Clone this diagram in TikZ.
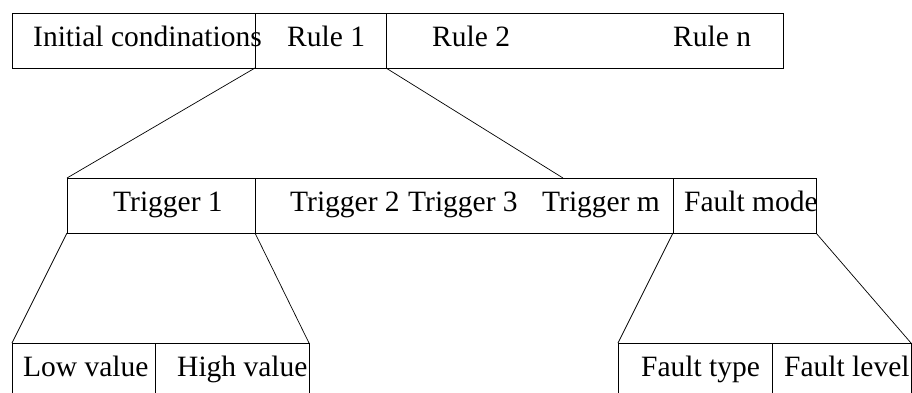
\documentclass[tikz,border=0pt]{standalone}
\usepackage{fontspec}
\setmainfont{Liberation Serif}
\begin{document}
\begin{tikzpicture}[x=1pt,y=-1pt,
  cell/.style={draw=black,line width=0.8pt,inner sep=0pt,outer sep=0pt,anchor=north west},
  lbl/.style={inner sep=0pt,anchor=base west,font=\fontsize{29.5}{34}\selectfont},
  link/.style={draw=black,line width=0.7pt}]
\useasboundingbox (0,0) rectangle (912,392);
\clip (0,0) rectangle (912,392);
% top row
\node[cell,minimum width=243pt,minimum height=55pt] (ic) at (12,13) {};
\node[cell,minimum width=131pt,minimum height=55pt] (r1) at (255,13) {};
\node[cell,minimum width=397pt,minimum height=55pt] (rr) at (386,13) {};
\node[lbl] (tic) at (33,46.7) {Initial condinations};
\node[lbl] (tr1) at (287,46.7) {Rule 1};
\node[lbl] (tr2) at (432,46.7) {Rule 2};
\node[lbl] (trn) at (673,46.7) {Rule n};
% middle row
\node[cell,minimum width=188pt,minimum height=55pt] (t1) at (67,178) {};
\node[cell,minimum width=418pt,minimum height=55pt] (tt) at (255,178) {};
\node[cell,minimum width=143pt,minimum height=55pt] (fm) at (673,178) {};
\node[lbl] (tt1) at (113,211.7) {Trigger 1};
\node[lbl] (tt2) at (290,211.7) {Trigger 2};
\node[lbl] (tt3) at (408,211.7) {Trigger 3};
\node[lbl] (ttm) at (542,211.7) {Trigger m};
\node[lbl] (tfm) at (684,211.7) {Fault mode};
\coordinate (tmtop) at (563,178);
% bottom row (cut by the picture edge)
\node[cell,minimum width=143pt,minimum height=70pt] (lv) at (12,343) {};
\node[cell,minimum width=154pt,minimum height=70pt] (hv) at (155,343) {};
\node[cell,minimum width=154pt,minimum height=70pt] (ft) at (618,343) {};
\node[cell,minimum width=139pt,minimum height=70pt] (fl) at (772,343) {};
\node[lbl] (tlv) at (23,376.7) {Low value};
\node[lbl] (thv) at (177,376.7) {High value};
\node[lbl] (tft) at (641,376.7) {Fault type};
\node[lbl] (tfl) at (784,376.7) {Fault level};
% connectors
\draw[link] (r1.south west) -- (t1.north west);
\draw[link] (r1.south east) -- (tmtop);
\draw[link] (t1.south west) -- (lv.north west);
\draw[link] (t1.south east) -- (hv.north east);
\draw[link] (fm.south west) -- (ft.north west);
\draw[link] (fm.south east) -- (fl.north east);
\end{tikzpicture}
\end{document}
